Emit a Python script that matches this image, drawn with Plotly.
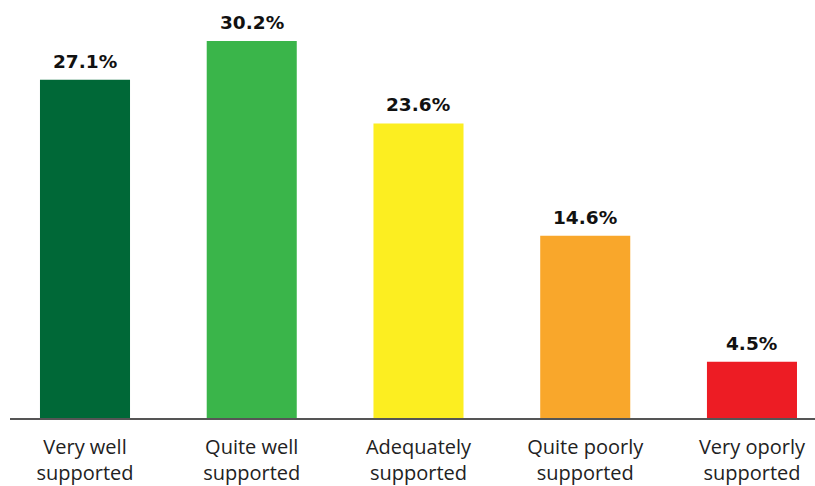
import plotly.graph_objects as go

categories = ["Very well<br>supported", "Quite well<br>supported", "Adequately<br>supported",
              "Quite poorly<br>supported", "Very oporly<br>supported"]
values = [27.1, 30.2, 23.6, 14.6, 4.5]
labels = ["27.1%", "30.2%", "23.6%", "14.6%", "4.5%"]
colors = ["#006837", "#3AB54A", "#FCEE21", "#F9A72B", "#ED1C24"]

x = list(range(len(categories)))

fig = go.Figure(go.Bar(
    x=x, y=values, marker=dict(color=colors, line=dict(width=0)),
    width=0.54, cliponaxis=False, hoverinfo="skip",
))

for xi, v, lab in zip(x, values, labels):
    fig.add_annotation(x=xi, y=v, text=lab, showarrow=False, yanchor="bottom",
                       yshift=6, font=dict(family="DejaVu Sans", size=18.5, color="#111111", weight="bold"))

fig.update_layout(
    width=815, height=486,
    margin=dict(l=10, r=0, t=20, b=68),
    paper_bgcolor="white", plot_bgcolor="white",
    showlegend=False,
    xaxis=dict(range=[-0.4498, 4.378], tickmode="array", tickvals=x, ticktext=categories,
               showline=True, linecolor="#555555", linewidth=1.5, showgrid=False,
               zeroline=False, ticks="", ticklabelstandoff=10, automargin=False,
               tickfont=dict(family="Open Sans", size=20, color="#222222")),
    yaxis=dict(range=[0, 398/12.48], visible=False, showgrid=False, zeroline=False),
)

fig.write_html("out.html", config={"displayModeBar": False},
               post_script="document.body.style.margin='0';document.body.style.padding='0';")
